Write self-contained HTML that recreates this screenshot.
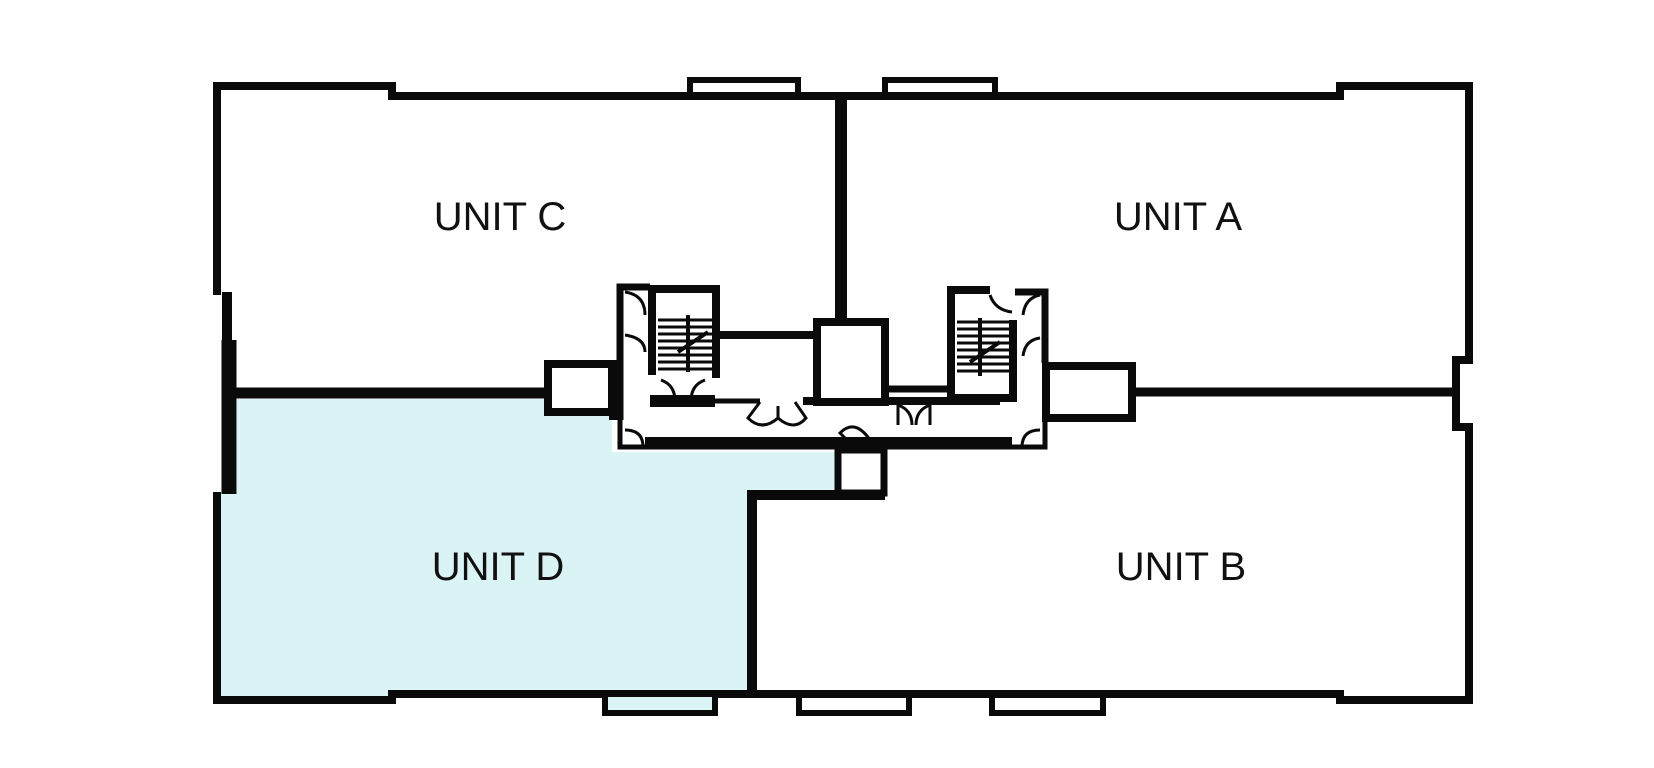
<!DOCTYPE html>
<html><head><meta charset="utf-8"><style>
html,body{margin:0;padding:0;background:#fff;}
svg{display:block}
text{font-family:"Liberation Sans",sans-serif;font-size:40px;fill:#111;}
</style></head><body>
<svg width="1654" height="768" viewBox="0 0 1654 768" xmlns="http://www.w3.org/2000/svg">
<path d="M237 399 L612 399 L612 452 L835 452 L835 491 L752 491 L752 690 L392 690 L392 700 L221 700 L221 492 L237 492 Z" fill="#daf3f5"/>
<g fill="none" stroke="#0a0a0a" stroke-linejoin="miter">
<path stroke-width="8" d="M217 295 L217 86 L392 86 L392 96 L1340 96 L1340 86 L1469 86 L1469 360 L1456 360 L1456 427 L1469 427 L1469 700 L1340 700 L1340 694 L392 694 L392 700 L217 700 L217 492"/>
<path stroke-width="10" d="M227 292 L227 340"/>
<path stroke-width="15" d="M229 340 L229 494"/>
<path stroke-width="6" d="M690 94 L690 80 L798 80 L798 94"/>
<path stroke-width="6" d="M885 94 L885 80 L995 80 L995 94"/>
<path stroke-width="6" fill="#daf3f5" d="M605 697 L605 713 L715 713 L715 697"/>
<path stroke-width="6" d="M799 697 L799 713 L909 713 L909 697"/>
<path stroke-width="6" d="M992 697 L992 713 L1103 713 L1103 697"/>
<path stroke-width="12" d="M841 96 L841 320"/>
<path stroke-width="11" d="M236 393 L548 393"/>
<path stroke-width="9" d="M1132 392 L1456 392"/>
<path stroke-width="10" d="M752 690 L752 495 L885 495"/>
<rect x="548" y="364" width="64" height="48" stroke-width="8" fill="#fff"/>
<rect x="1046" y="366" width="86" height="52" stroke-width="8" fill="#fff"/>
<path stroke-width="7" d="M650 287 L620 287 L620 420"/>
<path stroke-width="10" d="M614 360 L614 420"/>
<path stroke-width="5" d="M620 420 L620 447 L1045 447 L1045 420"/>
<path stroke-width="7" d="M1015 292 L1045 292 L1045 363"/>
<path stroke-width="12" d="M645 443 L1012 443"/>
<path stroke-width="8" d="M652 375 L652 289 L716 289 L716 378"/>
<path stroke-width="8" d="M990 290 L951 290 L951 398 L1013 398 L1013 320"/>
<g stroke-width="3">
<path d="M658 320 H712 M658 327 H712 M658 334 H712 M658 341 H712 M658 348 H712 M658 355 H712 M658 362 H712 M658 369 H712"/>
<path stroke-width="4" d="M688 315 V372 M678 352 L708 332"/>
<path d="M957 322 H1009 M957 329 H1009 M957 336 H1009 M957 343 H1009 M957 350 H1009 M957 357 H1009 M957 364 H1009 M957 371 H1009"/>
<path stroke-width="4" d="M980 318 V376 M970 362 L1000 342"/>
</g>
<path stroke-width="8" d="M716 335 L813 335"/>
<path stroke-width="12" d="M650 401 L715 401"/>
<path stroke-width="5" d="M715 401 L760 401"/>
<path stroke-width="8" d="M803 401 L1000 401"/>
<rect x="817" y="322" width="68" height="80" stroke-width="8" fill="#fff"/>
<path stroke-width="7" d="M885 389 L951 389"/>
<rect x="838" y="450" width="46" height="43" stroke-width="7" fill="#fff"/>
<g stroke-width="3">
<path d="M625 292 Q645 295 645 315"/>
<path d="M625 335 Q645 338 645 352"/>
<path d="M661 380 Q675 385 675 401 M705 380 Q691 385 691 401"/>
<path d="M760 402 L748 418 Q762 432 778 418 Q794 432 806 418 L795 402 M778 418 V406"/>
<path d="M898 405 V425 M898 405 Q912 410 912 425 M930 405 V425 M930 405 Q916 410 916 425"/>
<path d="M848 441 L840 433 Q855 418 870 440"/>
<path d="M625 430 Q643 430 643 447"/>
<path d="M1040 430 Q1022 430 1022 447"/>
<path d="M990 295 Q995 310 1012 312"/>
<path d="M1040 295 Q1025 298 1023 315"/>
<path d="M1040 338 Q1025 340 1023 356"/>
</g>
</g>
<text x="500" y="230" text-anchor="middle">UNIT C</text>
<text x="1178" y="230" text-anchor="middle">UNIT A</text>
<text x="498" y="580" text-anchor="middle">UNIT D</text>
<text x="1181" y="580" text-anchor="middle">UNIT B</text>
</svg>
</body></html>
